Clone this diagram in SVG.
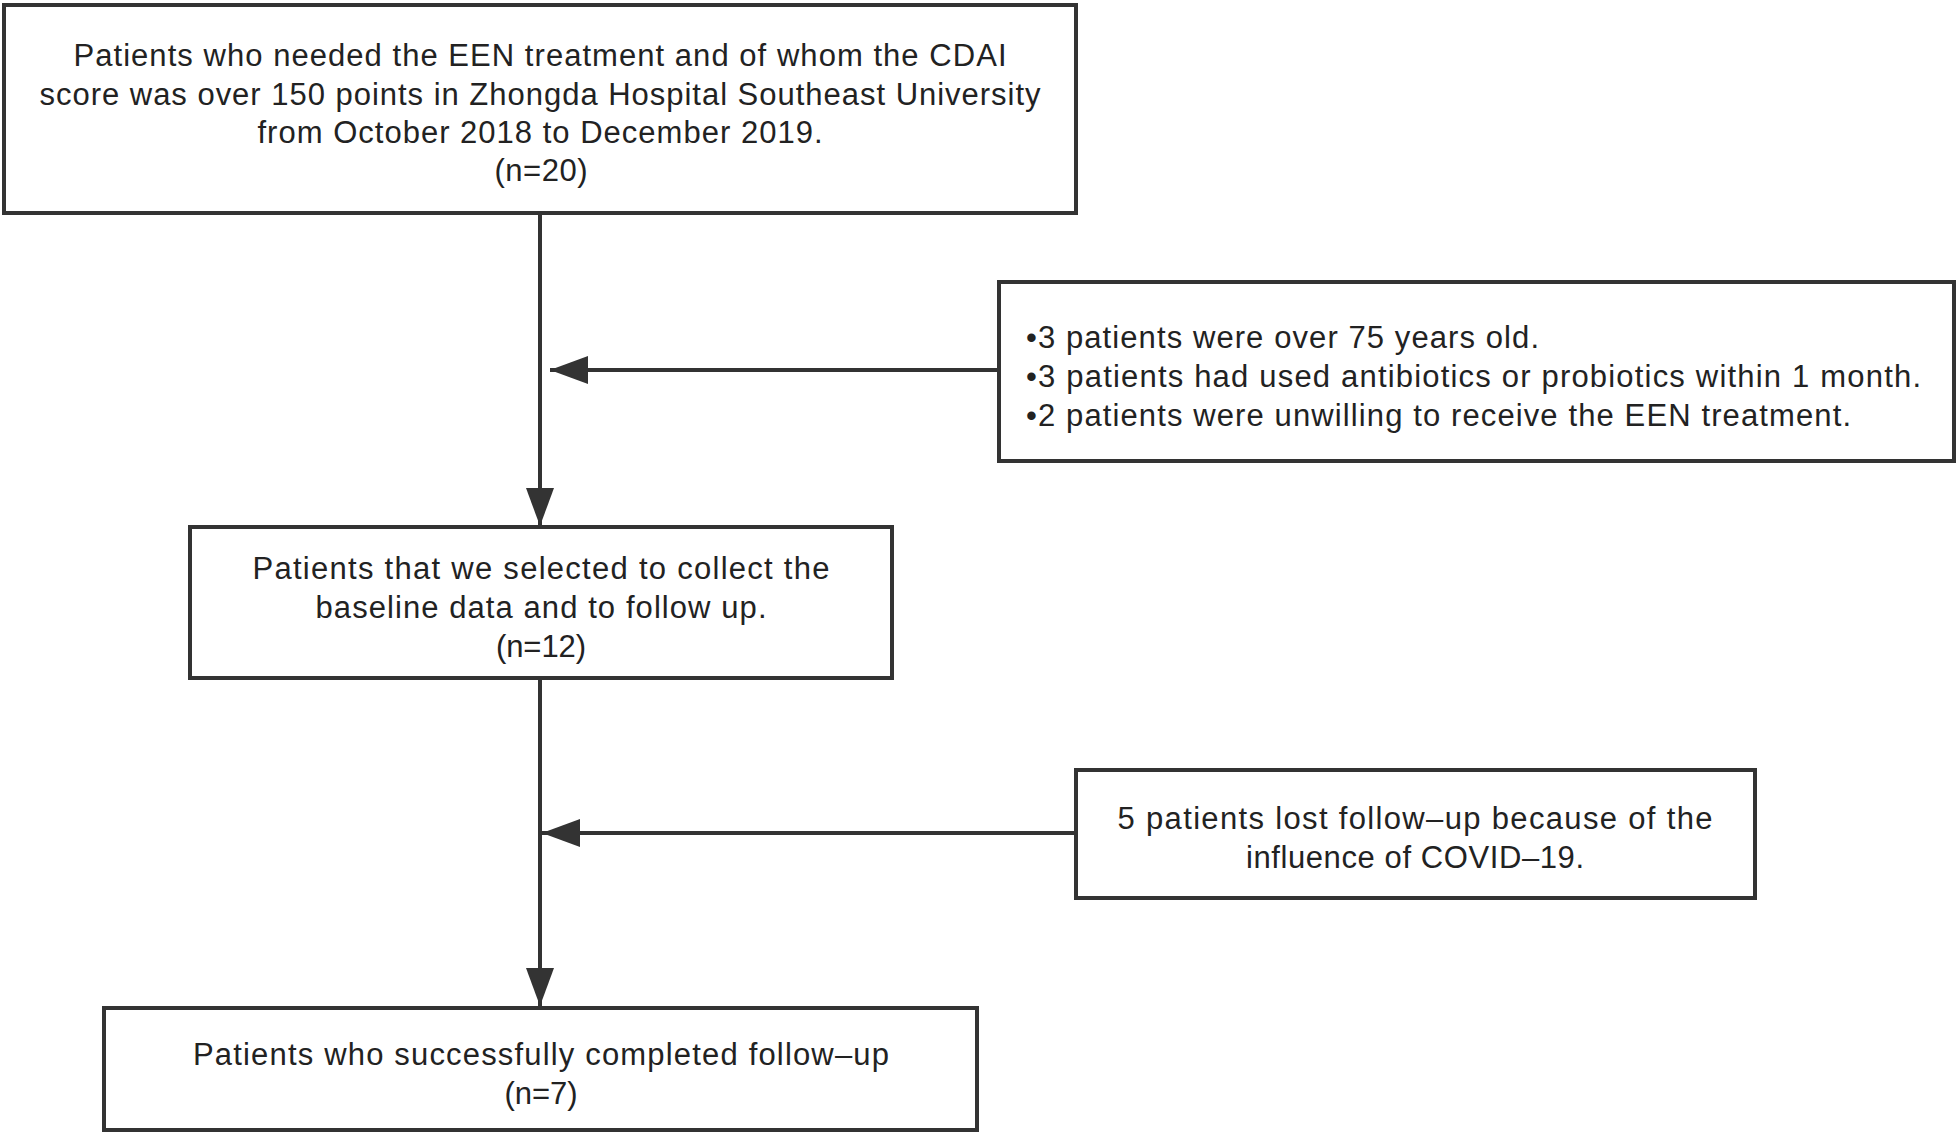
<svg xmlns="http://www.w3.org/2000/svg" width="1959" height="1134" viewBox="0 0 1959 1134">
<style>
.box{fill:#fff;stroke:#333;stroke-width:4}
.t{font-family:"Liberation Sans",Arial,sans-serif;font-size:31px;fill:#222}
.c{text-anchor:middle}
.ln{stroke:#333;stroke-width:4;fill:none}
</style>
<defs>
<marker id="ah" markerUnits="userSpaceOnUse" markerWidth="40" markerHeight="28" refX="38" refY="14" orient="auto">
<path d="M0,0 L38,14 L0,28 z" fill="#333"/>
</marker>
</defs>
<rect width="1959" height="1134" fill="#fff"/>
<g id="connectors">
<line class="ln" x1="540" y1="213" x2="540" y2="526" marker-end="url(#ah)"/>
<line class="ln" x1="999" y1="370" x2="550" y2="370" marker-end="url(#ah)"/>
<line class="ln" x1="540" y1="678" x2="540" y2="1006" marker-end="url(#ah)"/>
<line class="ln" x1="1076" y1="833" x2="542" y2="833" marker-end="url(#ah)"/>
</g>
<g id="n1">
<rect class="box" x="4" y="5" width="1072" height="208"/>
<text class="t c" x="540" y="66" textLength="933" lengthAdjust="spacing">Patients who needed the EEN treatment and of whom the CDAI</text>
<text class="t c" x="540" y="105" textLength="1001" lengthAdjust="spacing">score was over 150 points in Zhongda Hospital Southeast University</text>
<text class="t c" x="540" y="143" textLength="565" lengthAdjust="spacing">from October 2018 to December 2019.</text>
<text class="t c" x="541" y="181" textLength="93" lengthAdjust="spacing">(n=20)</text>
</g>
<g id="n2">
<rect class="box" x="999" y="282" width="955" height="179"/>
<text class="t" x="1026" y="348" textLength="513" lengthAdjust="spacing">•3 patients were over 75 years old.</text>
<text class="t" x="1026" y="387" textLength="895" lengthAdjust="spacing">•3 patients had used antibiotics or probiotics within 1 month.</text>
<text class="t" x="1026" y="426" textLength="825" lengthAdjust="spacing">•2 patients were unwilling to receive the EEN treatment.</text>
</g>
<g id="n3">
<rect class="box" x="190" y="527" width="702" height="151"/>
<text class="t c" x="541" y="579" textLength="577" lengthAdjust="spacing">Patients that we selected to collect the</text>
<text class="t c" x="541" y="618" textLength="451" lengthAdjust="spacing">baseline data and to follow up.</text>
<text class="t c" x="541" y="657" textLength="90" lengthAdjust="spacing">(n=12)</text>
</g>
<g id="n4">
<rect class="box" x="1076" y="770" width="679" height="128"/>
<text class="t c" x="1415" y="829" textLength="595" lengthAdjust="spacing">5 patients lost follow–up because of the</text>
<text class="t c" x="1415" y="868" textLength="338" lengthAdjust="spacing">influence of COVID–19.</text>
</g>
<g id="n5">
<rect class="box" x="104" y="1008" width="873" height="122"/>
<text class="t c" x="541" y="1065" textLength="696" lengthAdjust="spacing">Patients who successfully completed follow–up</text>
<text class="t c" x="541" y="1104" textLength="73" lengthAdjust="spacing">(n=7)</text>
</g>
</svg>
